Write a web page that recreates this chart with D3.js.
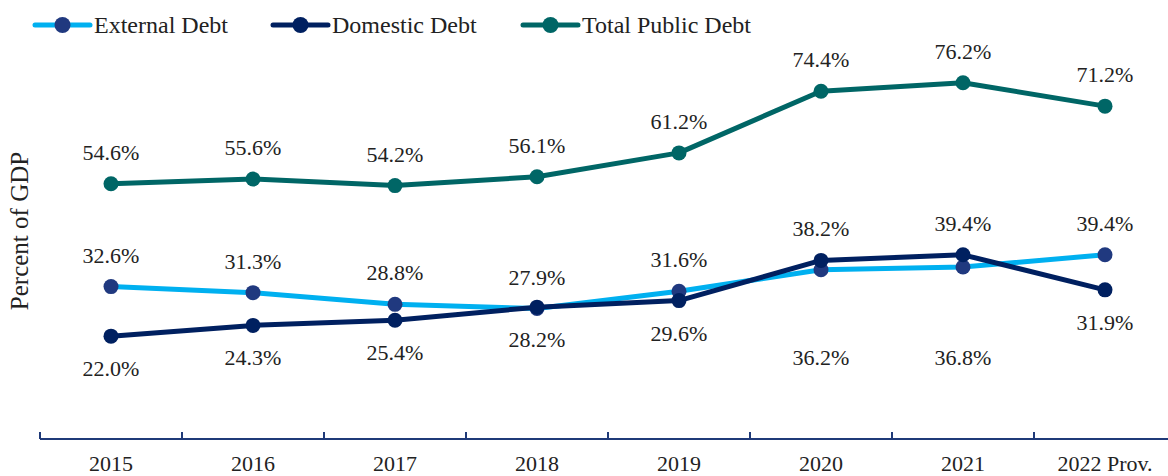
<!DOCTYPE html>
<html>
<head>
<meta charset="utf-8">
<script src="https://cdn.jsdelivr.net/npm/d3@7"></script>
<style>
  html, body { margin: 0; padding: 0; background: #ffffff; }
  svg { display: block; font-family: "Liberation Serif", "Times New Roman", serif; }
</style>
</head>
<body>
<svg id="chart" width="1168" height="476"></svg>
<script>
// Public debt as a share of GDP
const years = ["2015", "2016", "2017", "2018", "2019", "2020", "2021", "2022 Prov."];
const externalDebt = [32.6, 31.3, 28.8, 27.9, 31.6, 36.2, 36.8, 39.4];
const domesticDebt = [22.0, 24.3, 25.4, 28.2, 29.6, 38.2, 39.4, 31.9];
const totalDebt    = [54.6, 55.6, 54.2, 56.1, 61.2, 74.4, 76.2, 71.2];

// Vertical placement of each value label relative to its point (baseline offset, px)
const ABOVE = -24, BELOW = 40;
const externalLabelDy = [ABOVE, ABOVE, ABOVE, ABOVE, ABOVE, 95, 98, ABOVE];
const domesticLabelDy = [BELOW, BELOW, BELOW, BELOW, BELOW, ABOVE, ABOVE, BELOW];
const totalLabelDy    = [ABOVE, ABOVE, ABOVE, ABOVE, ABOVE, ABOVE, ABOVE, ABOVE];

const series = [
  { name: "External Debt", values: externalDebt, dy: externalLabelDy, line: "#00b0f0", marker: "#20397f" },
  { name: "Domestic Debt", values: domesticDebt, dy: domesticLabelDy, line: "#002060", marker: "#002060" },
  { name: "Total Public Debt", values: totalDebt, dy: totalLabelDy, line: "#006666", marker: "#006666" }
];

const svg = d3.select("#chart");
const fontSize = 22;

const x = d3.scaleBand().domain(years).range([40, 1176]).padding(0);
const y = d3.scaleLinear().domain([0, 80]).range([439, 65]);
const cx = d => x(d) + x.bandwidth() / 2;

// Category axis: line at zero with upward ticks at band boundaries
const axisG = svg.append("g").attr("transform", `translate(0,${y(0)})`);
axisG.append("line")
  .attr("x1", x.range()[0]).attr("x2", x.range()[1])
  .attr("stroke", "#1f3a78").attr("stroke-width", 2);
axisG.selectAll("line.tick")
  .data(years)
  .join("line")
  .attr("class", "tick")
  .attr("x1", d => x(d)).attr("x2", d => x(d))
  .attr("y1", 0).attr("y2", -7)
  .attr("stroke", "#1f3a78").attr("stroke-width", 2);
axisG.selectAll("text")
  .data(years)
  .join("text")
  .attr("x", d => cx(d))
  .attr("y", 32)
  .attr("text-anchor", "middle")
  .attr("font-size", fontSize)
  .attr("fill", "#222")
  .text(d => d);

// Y-axis title
svg.append("text")
  .attr("transform", `translate(28,231) rotate(-90)`)
  .attr("text-anchor", "middle")
  .attr("font-size", 25)
  .attr("fill", "#222")
  .text("Percent of GDP");

const line = d3.line()
  .x((v, i) => cx(years[i]))
  .y(v => y(v));

series.forEach(s => {
  const g = svg.append("g");
  g.append("path")
    .datum(s.values)
    .attr("d", line)
    .attr("fill", "none")
    .attr("stroke", s.line)
    .attr("stroke-width", 5)
    .attr("stroke-linejoin", "round");
  g.selectAll("circle")
    .data(s.values)
    .join("circle")
    .attr("cx", (v, i) => cx(years[i]))
    .attr("cy", v => y(v))
    .attr("r", 7.5)
    .attr("fill", s.marker);
});

// Value labels
series.forEach(s => {
  svg.append("g").selectAll("text")
    .data(s.values)
    .join("text")
    .attr("x", (v, i) => cx(years[i]))
    .attr("y", (v, i) => y(v) + s.dy[i])
    .attr("text-anchor", "middle")
    .attr("font-size", fontSize)
    .attr("fill", "#222")
    .text(v => v.toFixed(1) + "%");
});

// Legend
const legendX = [35, 273, 523];
const legend = svg.append("g");
series.forEach((s, i) => {
  const g = legend.append("g").attr("transform", `translate(${legendX[i]},25)`);
  g.append("line").attr("x1", 0).attr("x2", 55)
    .attr("stroke", s.line).attr("stroke-width", 5).attr("stroke-linecap", "round");
  g.append("circle").attr("cx", 27.5).attr("r", 8).attr("fill", s.marker);
  g.append("text").attr("x", 59).attr("y", 8)
    .attr("font-size", 24).attr("fill", "#222")
    .text(s.name);
});
</script>
</body>
</html>
